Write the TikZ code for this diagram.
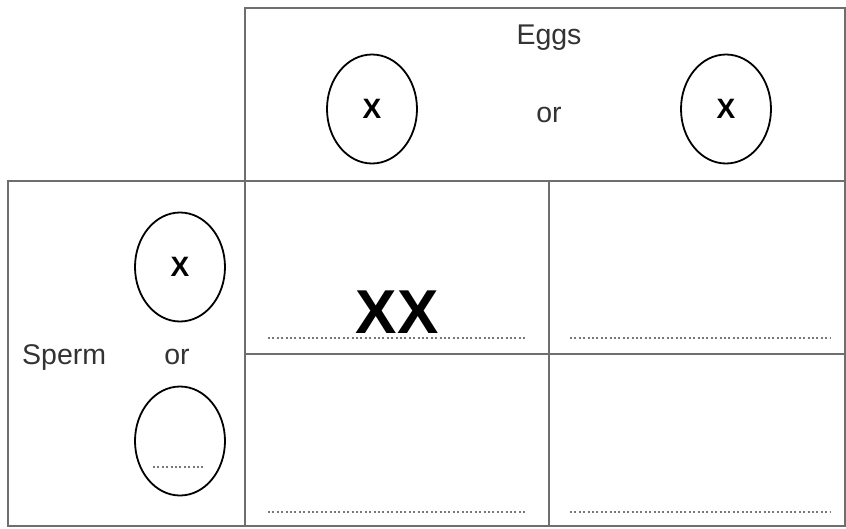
\documentclass[tikz,border=0pt]{standalone}
\usepackage{fontspec}
\setmainfont{Liberation Sans}
\usetikzlibrary{shapes.geometric}
\definecolor{gridgray}{RGB}{110,110,110}
\definecolor{dotgray}{RGB}{120,120,120}

\begin{document}
\begin{tikzpicture}[x=1pt, y=-1pt,
  cell/.style={draw=gridgray, line width=1.8pt},
  gamete/.style={draw, ellipse, line width=1.8pt, minimum width=90pt, minimum height=109pt, inner sep=0pt},
  word/.style={font=\fontsize{28.5}{28.5}\selectfont, text=black!80, inner sep=0pt},
  chrom/.style={font=\fontsize{28}{28}\selectfont\bfseries, inner sep=0pt},
  blank/.style={draw=dotgray, line width=1.8pt, dash pattern=on 2pt off 2.4pt}
]
\useasboundingbox (0,0) rectangle (846,528);

% frames of the square
\draw[cell] (245,8) rectangle (845,181);
\draw[cell] (8,181) rectangle (245,526);
\draw[cell] (245,181) rectangle (845,526);
\draw[cell] (549,181) -- (549,526);
\draw[cell] (245,354) -- (845,354);

% eggs
\node[word, anchor=base] (eggs) at (549,44) {Eggs};
\node[gamete] (eggA) at (372,109) {};
\node[gamete] (eggB) at (726,109) {};
\node[chrom] (xA) at (eggA.center) {X};
\node[chrom] (xB) at (eggB.center) {X};
\node[word, anchor=base] (orE) at (549,122) {or};

% sperm
\node[word, anchor=base west] (sperm) at (22,364) {Sperm};
\node[gamete] (spermA) at (180,267) {};
\node[gamete] (spermB) at (180,441) {};
\node[chrom] (xS) at (spermA.center) {X};
\node[word, anchor=base] (orS) at (177,364) {or};
\coordinate (gapL) at (153,467);
\coordinate (gapR) at (205,467);
\draw[blank] (gapL) -- (gapR);

% offspring cells
\node[font=\fontsize{62}{62}\selectfont\bfseries, anchor=base, inner sep=0pt] (xx) at (397,333) {XX};
\coordinate (a1) at (268,338); \coordinate (a2) at (525,338);
\coordinate (b1) at (570,338); \coordinate (b2) at (830,338);
\coordinate (c1) at (268,512); \coordinate (c2) at (525,512);
\coordinate (d1) at (570,512); \coordinate (d2) at (830,512);
\draw[blank] (a1) -- (a2);
\draw[blank] (b1) -- (b2);
\draw[blank] (c1) -- (c2);
\draw[blank] (d1) -- (d2);
\end{tikzpicture}
\end{document}
